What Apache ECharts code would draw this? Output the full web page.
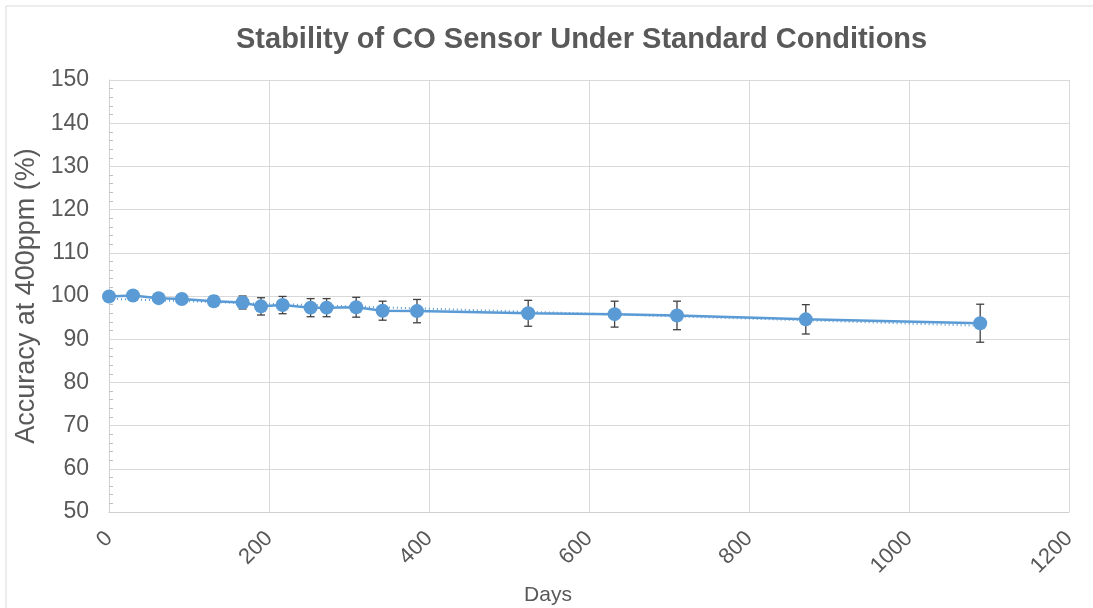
<!DOCTYPE html>
<html>
<head>
<meta charset="utf-8">
<script src="https://cdn.jsdelivr.net/npm/echarts@6/dist/echarts.min.js"></script>
<style>
html,body{margin:0;padding:0;background:#fff;}
#chart{width:1093px;height:608px;}
</style>
</head>
<body>
<div id="chart"></div>
<script>
const days = [0, 30, 62, 91, 131, 167, 190, 217, 252, 272, 309, 342, 385, 524, 632, 710, 871, 1089];
const accuracy = [99.9, 100.1, 99.5, 99.3, 98.8, 98.5, 97.6, 97.9, 97.3, 97.3, 97.4, 96.6, 96.5, 96.0, 95.8, 95.5, 94.6, 93.7];
const errors = [0.3, 0.3, 0.3, 0.4, 1.2, 1.5, 2.0, 2.0, 2.1, 2.1, 2.3, 2.2, 2.7, 3.0, 3.0, 3.3, 3.4, 4.4];
const titleText = 'Stability of CO Sensor Under Standard Conditions';
const xName = 'Days';
const yName = 'Accuracy at 400ppm (%)';

const pts = days.map((d, i) => [d, accuracy[i]]);
const errData = days.map((d, i) => [d, accuracy[i] - errors[i], accuracy[i] + errors[i]]);

// linear trendline from least squares
const n = days.length;
const mx = days.reduce((a, b) => a + b, 0) / n;
const my = accuracy.reduce((a, b) => a + b, 0) / n;
let sxy = 0, sxx = 0;
for (let i = 0; i < n; i++) { sxy += (days[i] - mx) * (accuracy[i] - my); sxx += (days[i] - mx) ** 2; }
const slope = sxy / sxx, icpt = my - slope * mx;
const trend = [[days[0], icpt + slope * days[0]], [days[n - 1], icpt + slope * days[n - 1]]];

const blue = '#5b9bd5';
const txt = '#595959';
const font = 'Liberation Sans, Arial, sans-serif';

const chart = echarts.init(document.getElementById('chart'), null, {renderer: 'canvas'});
chart.setOption({
  animation: false,
  backgroundColor: '#fff',
  graphic: [{
    type: 'rect', shape: {x: 6, y: 6, width: 1200, height: 700},
    style: {fill: 'none', stroke: '#d9d9d9', lineWidth: 1}, silent: true, z: -10
  }],
  title: {
    text: titleText, left: 231, top: 20,
    textStyle: {fontFamily: font, fontSize: 29, fontWeight: 'bold', color: txt}
  },
  grid: {left: 109, right: 24, top: 80, bottom: 96, containLabel: false, outerBoundsMode: 'none'},
  xAxis: {
    type: 'value', min: 0, max: 1200, interval: 200,
    name: xName, nameLocation: 'middle', nameGap: 73,
    nameTextStyle: {fontFamily: font, fontSize: 21, color: txt, padding: [0, 82, 0, 0]},
    axisLine: {show: true, lineStyle: {color: '#d0d0d0', width: 1}},
    axisTick: {show: false},
    axisLabel: {rotate: 45, margin: 23, fontFamily: font, fontSize: 22, color: txt,
      formatter: function (v) { return String(v); }},
    splitLine: {show: true, lineStyle: {color: '#d9d9d9', width: 1}}
  },
  yAxis: {
    type: 'value', min: 50, max: 150, interval: 10,
    name: yName, nameLocation: 'middle', nameGap: 66,
    nameTextStyle: {fontFamily: font, fontSize: 27, color: txt},
    axisLine: {show: true, lineStyle: {color: '#d0d0d0', width: 1}},
    axisTick: {show: false, inside: true},
    minorTick: {show: true, splitNumber: 5, length: 4, lineStyle: {color: '#bfbfbf'}},
    axisLabel: {margin: 20, fontFamily: font, fontSize: 23, color: txt},
    splitLine: {show: true, lineStyle: {color: '#d9d9d9', width: 1}}
  },
  series: [
    {
      type: 'line', data: trend, symbol: 'none', z: 2,
      lineStyle: {color: blue, width: 2, type: [1, 3]}
    },
    {
      type: 'custom', data: errData, z: 3,
      renderItem: function (params, api) {
        const x = api.value(0);
        const lo = api.coord([x, api.value(1)]);
        const hi = api.coord([x, api.value(2)]);
        const c = 4;
        const st = {stroke: '#404040', lineWidth: 1.3};
        return {
          type: 'group', children: [
            {type: 'line', shape: {x1: lo[0], y1: lo[1], x2: hi[0], y2: hi[1]}, style: st},
            {type: 'line', shape: {x1: lo[0] - c, y1: lo[1], x2: lo[0] + c, y2: lo[1]}, style: st},
            {type: 'line', shape: {x1: hi[0] - c, y1: hi[1], x2: hi[0] + c, y2: hi[1]}, style: st}
          ]
        };
      }
    },
    {
      type: 'line', data: pts, symbol: 'circle', symbolSize: 14, z: 4,
      itemStyle: {color: blue},
      lineStyle: {color: blue, width: 2.5}
    }
  ]
});
</script>
</body>
</html>
